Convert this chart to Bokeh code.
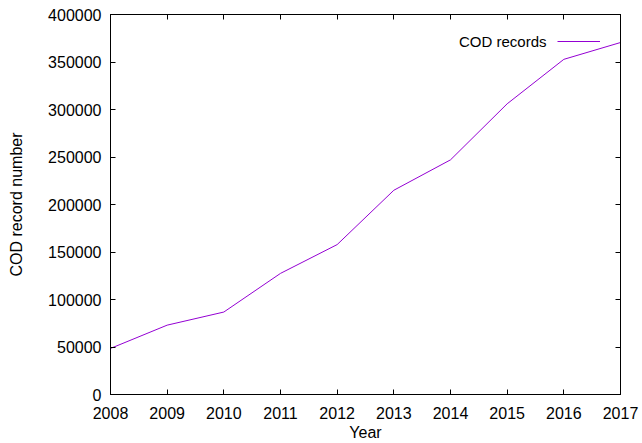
from bokeh.plotting import figure
from bokeh.models import LinearAxis, FixedTicker, Range1d, Label, Legend, LegendItem
from bokeh.embed import file_html
from bokeh.resources import INLINE

years = [2008, 2009, 2010, 2011, 2012, 2013, 2014, 2015, 2016, 2017]
records = [48500, 73000, 86800, 127500, 157800, 215000, 247000, 306000, 352800, 370500]
x_ticks = [2008, 2009, 2010, 2011, 2012, 2013, 2014, 2015, 2016, 2017]
y_ticks = [0, 50000, 100000, 150000, 200000, 250000, 300000, 350000, 400000]
series_name = "COD records"

FONT = "Liberation Sans"
FS = "16px"

p = figure(width=640, height=443, output_backend="svg", toolbar_location=None,
           x_range=Range1d(2008, 2017), y_range=Range1d(0, 400000),
           x_axis_label="Year", y_axis_label="COD record number",
           min_border_left=110, min_border_right=20, min_border_top=14, min_border_bottom=0)
p.grid.visible = False
p.outline_line_color = "black"
p.outline_line_width = 1
p.background_fill_color = "white"
p.border_fill_color = "white"

r = p.line(years, records, line_color="#9400D3", line_width=1)

def style(ax):
    ax.axis_line_color = "black"
    ax.major_tick_line_color = "black"
    ax.major_tick_in = 5
    ax.major_tick_out = 0
    ax.minor_tick_line_color = None
    ax.major_label_text_font = FONT
    ax.major_label_text_font_size = FS
    ax.major_label_text_color = "black"
    ax.axis_label_text_font = FONT
    ax.axis_label_text_font_size = FS
    ax.axis_label_text_font_style = "normal"
    ax.axis_label_text_color = "black"

xa = p.xaxis[0]
ya = p.yaxis[0]
xa.ticker = FixedTicker(ticks=x_ticks)
ya.ticker = FixedTicker(ticks=y_ticks)
style(xa); style(ya)
xa.major_label_standoff = 12
xa.axis_label_standoff = 2
ya.major_label_standoff = 9
ya.axis_label_standoff = 20
ya.formatter.use_scientific = False

top = LinearAxis(ticker=FixedTicker(ticks=x_ticks),
                 major_label_overrides={t: "" for t in x_ticks})
right = LinearAxis(ticker=FixedTicker(ticks=y_ticks),
                   major_label_overrides={t: "" for t in y_ticks})
style(top); style(right)
top.major_label_standoff = 0
right.major_label_standoff = 0
p.add_layout(top, "above")
p.add_layout(right, "right")

leg = Legend(items=[LegendItem(label=" ", renderers=[r])], location=(447, 345),
             padding=0, margin=0, spacing=0, label_standoff=0, glyph_width=43, glyph_height=16,
             border_line_color=None, background_fill_alpha=0, label_text_font_size="15px",
             label_text_font=FONT)
p.add_layout(leg, "center")

lab = Label(x=436, y=353, x_units="screen", y_units="screen", text=series_name,
            text_align="right", text_baseline="middle", text_font=FONT, text_font_size="15px",
            text_color="black")
p.add_layout(lab)

open("out.html", "w").write(file_html(p, INLINE))
